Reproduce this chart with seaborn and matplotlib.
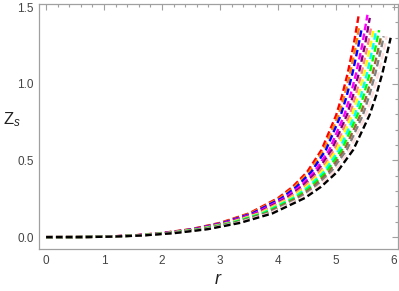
import numpy as np
import pandas as pd
import matplotlib
matplotlib.use("Agg")
import matplotlib.pyplot as plt
import seaborn as sns
from matplotlib.ticker import MultipleLocator, FormatStrFormatter

# heights shared by all curves, then each curve's r at those heights
z_levels = [0, 0.0004, 0.003, 0.011, 0.027, 0.052, 0.093, 0.155, 0.255,
            0.328, 0.425, 0.57, 0.795, 0.92, 1.07, 1.25]

r_red = [0, 0.5, 1, 1.5, 2, 2.5, 3, 3.5, 4, 4.25, 4.5, 4.75, 5, 5.1, 5.2, 5.3]
r_orange = [0, 0.504, 1.008, 1.512, 2.016, 2.52, 3.024, 3.528, 4.032, 4.284, 4.536, 4.788, 5.04, 5.141, 5.242, 5.342]
r_blue = [0, 0.508, 1.016, 1.524, 2.032, 2.54, 3.048, 3.556, 4.064, 4.318, 4.572, 4.826, 5.08, 5.182, 5.283, 5.385]
r_magenta = [0, 0.514, 1.028, 1.542, 2.056, 2.57, 3.084, 3.598, 4.112, 4.369, 4.626, 4.883, 5.14, 5.243, 5.346, 5.448]
r_purple = [0, 0.519, 1.037, 1.556, 2.074, 2.593, 3.111, 3.63, 4.148, 4.407, 4.667, 4.926, 5.185, 5.289, 5.392, 5.496]
r_pink = [0, 0.523, 1.046, 1.569, 2.092, 2.615, 3.138, 3.661, 4.184, 4.446, 4.707, 4.969, 5.23, 5.335, 5.439, 5.544]
r_yellow = [0, 0.528, 1.055, 1.583, 2.11, 2.638, 3.165, 3.693, 4.22, 4.484, 4.748, 5.011, 5.275, 5.381, 5.486, 5.592]
r_cyan = [0, 0.532, 1.064, 1.596, 2.128, 2.66, 3.192, 3.724, 4.256, 4.522, 4.788, 5.054, 5.32, 5.426, 5.533, 5.639]
r_green = [0, 0.537, 1.073, 1.61, 2.146, 2.683, 3.219, 3.756, 4.292, 4.56, 4.829, 5.097, 5.365, 5.472, 5.58, 5.687]
r_brown = [0, 0.542, 1.083, 1.625, 2.166, 2.708, 3.249, 3.791, 4.332, 4.603, 4.874, 5.144, 5.415, 5.523, 5.632, 5.74]
r_gray = [0, 0.546, 1.092, 1.638, 2.184, 2.73, 3.276, 3.822, 4.368, 4.641, 4.914, 5.187, 5.46, 5.569, 5.678, 5.788]
r_lightpink = [0, 0.551, 1.102, 1.653, 2.204, 2.755, 3.306, 3.857, 4.408, 4.684, 4.959, 5.235, 5.51, 5.62, 5.73, 5.841]
r_black = [0, 0.558, 1.115, 1.673, 2.23, 2.788, 3.345, 3.903, 4.46, 4.739, 5.018, 5.296, 5.575, 5.687, 5.798, 5.91]

# where each curve stops
r_end = [5.39, 5.40, 5.44, 5.54, 5.58, 5.61, 5.65, 5.68, 5.74, 5.77, 5.82, 5.87, 5.94]
z_end = [1.45, 1.38, 1.36, 1.45, 1.43, 1.38, 1.36, 1.33, 1.35, 1.30, 1.31, 1.31, 1.30]

curves = [r_red, r_orange, r_blue, r_magenta, r_purple, r_pink, r_yellow,
          r_cyan, r_green, r_brown, r_gray, r_lightpink, r_black]
colors = ["#ff0000", "#ff8000", "#0000ff", "#ff00ff", "#800080", "#ff8080",
          "#ffff00", "#00ffff", "#00ff00", "#996633", "#808080", "#ffdede", "#000000"]

sns.set_style("white")
plt.rcParams['font.family'] = ['Liberation Sans', 'DejaVu Sans']
plt.rcParams['mathtext.fontset'] = 'custom'
plt.rcParams['mathtext.rm'] = 'Liberation Sans'
plt.rcParams['mathtext.it'] = 'Liberation Sans:italic'

fig = plt.figure(figsize=(3.99, 2.91), dpi=100)
ax = fig.add_axes([0.098, 0.144, 0.9, 0.842])

for i, r in enumerate(curves):
    df = pd.DataFrame({"r": r + [r_end[i]], "z": z_levels + [z_end[i]]})
    sns.lineplot(data=df, x="r", y="z", color=colors[i], lw=1.7,
                 linestyle=(0, (2.8, 1.4)), estimator=None, sort=False, ax=ax)

ax.set_xlim(-0.12, 6.07)
ax.set_ylim(-0.078, 1.52)
ax.xaxis.set_major_locator(MultipleLocator(1))
ax.xaxis.set_minor_locator(MultipleLocator(0.2))
ax.yaxis.set_major_locator(MultipleLocator(0.5))
ax.yaxis.set_minor_locator(MultipleLocator(0.1))
ax.yaxis.set_major_formatter(FormatStrFormatter("%.1f"))

for sp in ax.spines.values():
    sp.set_color("#a0a0a0")
    sp.set_linewidth(0.9)
ax.tick_params(which="both", direction="in", top=True, right=True,
               color="#a0a0a0", labelsize=8.5, labelcolor="#444444", width=0.8)
ax.tick_params(which="major", length=4, pad=4)
ax.tick_params(which="minor", length=2)

ax.set_xlabel("$r$", fontsize=13, labelpad=3, color="#222222")
ax.set_ylabel(r"Z$_s$", fontsize=12, rotation=0, color="#222222")
ax.yaxis.set_label_coords(-0.075, 0.49)

fig.savefig("out.png", dpi=100)
